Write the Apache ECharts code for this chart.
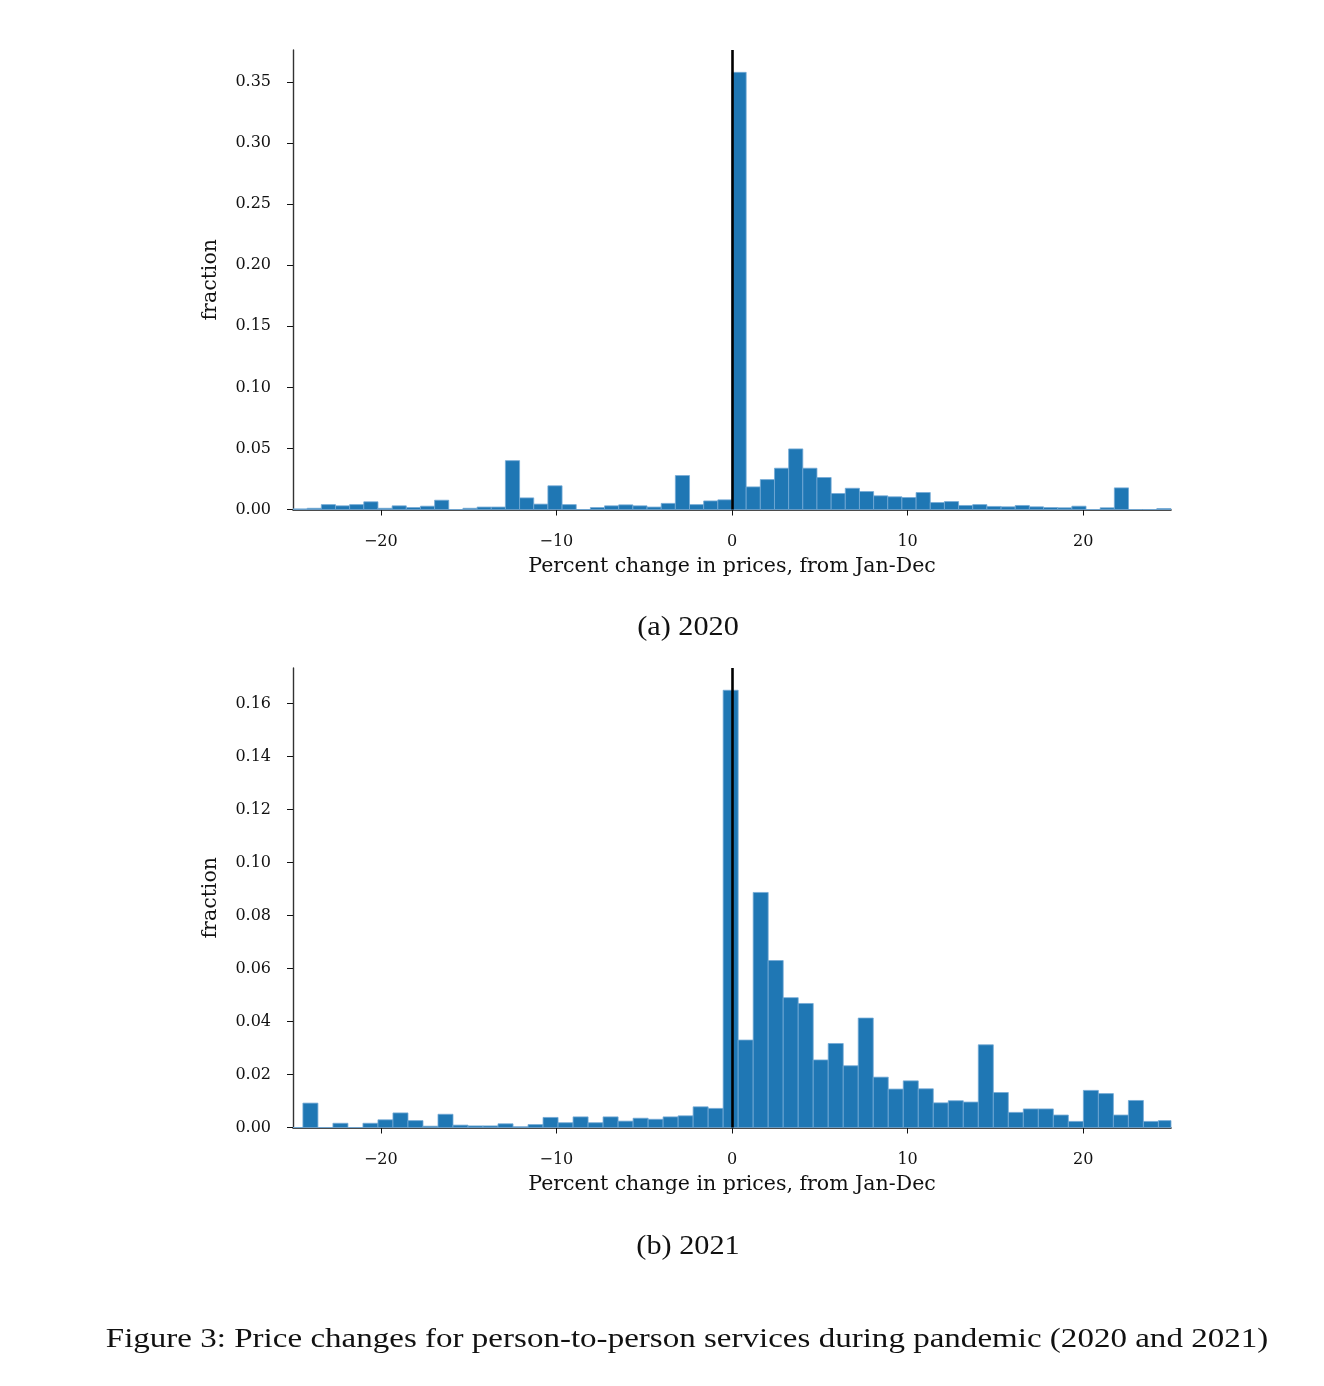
<!DOCTYPE html>
<html>
<head>
<meta charset="utf-8">
<script src="https://cdn.jsdelivr.net/npm/echarts@6/dist/echarts.min.js"></script>
<style>
  html, body { margin: 0; padding: 0; background: #fff; }
  #chart { width: 1324px; height: 1386px; }
</style>
</head>
<body>
<div id="chart"></div>
<script>
// 2020: 62 bins from -25 to 25
var binStart2020 = -25;
var binWidth2020 = 50 / 62;
var frac2020 = [
    0.0005, 0.001, 0.004, 0.003, 0.004, 0.0063, 0.001, 0.003, 0.0016, 0.0027,
    0.0076, 0, 0.001, 0.002, 0.002, 0.040, 0.0095, 0.0044, 0.0194, 0.004,
    0, 0.0016, 0.003, 0.0038, 0.003, 0.002, 0.005, 0.0278, 0.004, 0.007,
    0.0079, 0.358, 0.0185, 0.0245, 0.0338, 0.0496, 0.0338, 0.0262, 0.0131, 0.0174,
    0.0147, 0.0112, 0.0104, 0.0098, 0.0139, 0.0057, 0.0065, 0.0033, 0.004, 0.0025,
    0.0022, 0.0033, 0.0022, 0.0016, 0.0014, 0.0027, 0, 0.0014, 0.0177, 0,
    0, 0.0008
];

// 2021: 59 bins, wider and offset
var binStart2021 = -25.29;
var binWidth2021 = 0.8547;
var frac2021 = [
    0, 0.0092, 0, 0.0016, 0, 0.0016, 0.0029, 0.0055, 0.0026, 0.0005,
    0.005, 0.0009, 0.0006, 0.0006, 0.0014, 0.0003, 0.0011, 0.0038, 0.0018, 0.004,
    0.0018, 0.004, 0.0024, 0.0035, 0.0031, 0.004, 0.0044, 0.0078, 0.0072, 0.165,
    0.033, 0.0887, 0.063, 0.049, 0.0468, 0.0255, 0.0317, 0.0233, 0.0413, 0.019,
    0.0145, 0.0176, 0.0146, 0.0093, 0.0101, 0.0096, 0.0312, 0.0132, 0.0057, 0.007,
    0.007, 0.0047, 0.0023, 0.014, 0.0128, 0.0047, 0.0102, 0.0023, 0.0026
];

var xTicks = [-20, -10, 0, 10, 20];
var yTicks2020 = [0, 0.05, 0.10, 0.15, 0.20, 0.25, 0.30, 0.35];
var yTicks2021 = [0, 0.02, 0.04, 0.06, 0.08, 0.10, 0.12, 0.14, 0.16];

var xTitle = 'Percent change in prices, from Jan-Dec';
var yTitle = 'fraction';
var subCaptions = ['(a) 2020', '(b) 2021'];
var figCaption = 'Figure 3: Price changes for person-to-person services during pandemic (2020 and 2021)';

var tickFont = 'DejaVu Serif';
var capFont = 'Liberation Serif';

// 直方图数据 [左边界, 右边界, 比例]
function toBins(start, width, vals) {
    var out = [];
    for (var i = 0; i < vals.length; i++) {
        out.push([start + i * width, start + (i + 1) * width, vals[i]]);
    }
    return out;
}

function renderBar(params, api) {
    var p0 = api.coord([api.value(0), api.value(2)]);
    var p1 = api.coord([api.value(1), 0]);
    var cs = params.coordSys;
    var rect = echarts.graphic.clipRectByRect(
        { x: p0[0], y: p0[1], width: p1[0] - p0[0], height: p1[1] - p0[1] },
        { x: cs.x, y: cs.y, width: cs.width, height: cs.height }
    );
    if (!rect) return;
    return {
        type: 'rect',
        shape: rect,
        style: { fill: '#1f77b4', stroke: '#73a9d6', lineWidth: 0.8 }
    };
}

function makeX(idx) {
    return {
        type: 'value',
        gridIndex: idx,
        min: -25,
        max: 25,
        name: xTitle,
        nameLocation: 'middle',
        nameGap: 47,
        nameTextStyle: { fontFamily: tickFont, fontSize: 20.5, color: '#111' },
        axisLine: { show: true, onZero: false, lineStyle: { color: '#111', width: 1.6 } },
        axisTick: { show: true, customValues: xTicks, length: 6, lineStyle: { color: '#111', width: 1 } },
        axisLabel: {
            customValues: xTicks,
            margin: 24,
            fontFamily: tickFont,
            fontSize: 16,
            color: '#111',
            formatter: function (v) { return v < 0 ? '\u2212' + Math.abs(v) : String(v); }
        },
        splitLine: { show: false }
    };
}

function makeY(idx, max, ticks) {
    return {
        type: 'value',
        gridIndex: idx,
        min: 0,
        max: max,
        name: yTitle,
        nameLocation: 'middle',
        nameGap: 72,
        nameRotate: 90,
        nameTextStyle: { fontFamily: tickFont, fontSize: 20.5, color: '#111' },
        axisLine: { show: true, onZero: false, lineStyle: { color: '#333', width: 1.4 } },
        axisTick: { show: true, customValues: ticks, length: 6, lineStyle: { color: '#111', width: 1 } },
        axisLabel: {
            customValues: ticks,
            margin: 22,
            fontFamily: tickFont,
            fontSize: 16,
            color: '#111',
            formatter: function (v) { return v.toFixed(2); }
        },
        splitLine: { show: false }
    };
}

function makeSeries(idx, data) {
    return {
        type: 'custom',
        xAxisIndex: idx,
        yAxisIndex: idx,
        renderItem: renderBar,
        encode: { x: [0, 1], y: 2 },
        data: data,
        silent: true,
        markLine: {
            silent: true,
            symbol: 'none',
            label: { show: false },
            lineStyle: { color: '#000', width: 2.6, type: 'solid' },
            data: [{ xAxis: 0 }]
        }
    };
}

function caption(text, x, y, size, sx) {
    return {
        type: 'text', x: x, y: y, scaleX: sx,
        style: { text: text, font: size + 'px "' + capFont + '"', fill: '#111', align: 'center', verticalAlign: 'middle' }
    };
}

var container = echarts.init(document.getElementById('chart'));
var option = {
    animation: false,
    backgroundColor: '#fff',
    grid: [
        { left: 293, top: 50, width: 878, height: 459.5 },
        { left: 293, top: 668, width: 878, height: 459.5 }
    ],
    xAxis: [makeX(0), makeX(1)],
    yAxis: [makeY(0, 0.3763, yTicks2020), makeY(1, 0.1734, yTicks2021)],
    series: [
        makeSeries(0, toBins(binStart2020, binWidth2020, frac2020)),
        makeSeries(1, toBins(binStart2021, binWidth2021, frac2021))
    ],
    graphic: [
        caption(subCaptions[0], 688, 628, 27, 1.12),
        caption(subCaptions[1], 688, 1247, 27, 1.12),
        caption(figCaption, 687, 1340, 28, 1.18)
    ]
};
container.setOption(option);
</script>
</body>
</html>
